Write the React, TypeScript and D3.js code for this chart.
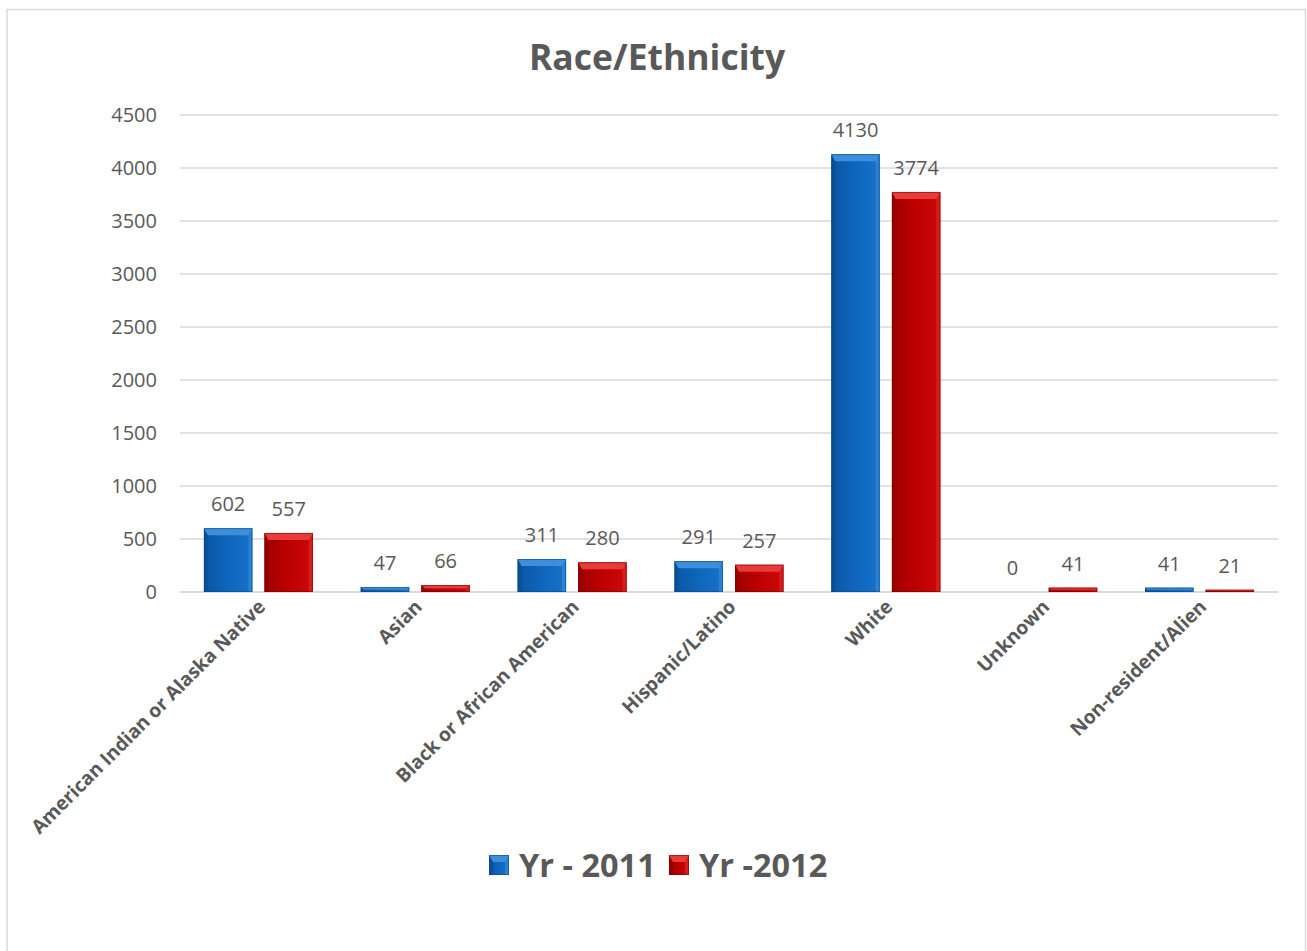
import React from "react";
import * as d3 from "d3";

const categories = [
  "American Indian or Alaska Native",
  "Asian",
  "Black or African American",
  "Hispanic/Latino",
  "White",
  "Unknown",
  "Non-resident/Alien",
];
const seriesNames = ["Yr - 2011", "Yr -2012"];
const values2011 = [602, 47, 311, 291, 4130, 0, 41];
const values2012 = [557, 66, 280, 257, 3774, 41, 21];
const yTicks = [0, 500, 1000, 1500, 2000, 2500, 3000, 3500, 4000, 4500];

const W = 1307;
const H = 951;
const FONT = "'Open Sans', Lato, sans-serif";
const TXT = "#595959";

const palettes = [
  { faceL: "#0a55a3", faceM: "#0f66bd", faceR: "#1672c8", top: "#3d8fdc", left: "#0a4f97", right: "#2c86d8", edge: "#093f78" },
  { faceL: "#9e0000", faceM: "#bd0000", faceR: "#cc0a0a", top: "#ea3b3b", left: "#960000", right: "#d92222", edge: "#6a0000" },
];

function BevelBar({ x, y, w, h, p, id }: any) {
  if (h <= 0) return null;
  const b = Math.min(7, h / 2, w / 2);
  const s = Math.min(4, h / 2, w / 2);
  const x0 = x, x1 = x + w, y0 = y, y1 = y + h;
  return (
    <g>
      <rect x={x0} y={y0} width={w} height={h} fill={`url(#face${id})`} />
      <polygon points={`${x0},${y0} ${x0 + s},${y0 + b} ${x0 + s},${y1} ${x0},${y1}`} fill={p.left} opacity={0.85} />
      <polygon points={`${x1},${y0} ${x1},${y1} ${x1 - s},${y1} ${x1 - s},${y0 + b}`} fill={p.right} opacity={0.85} />
      <polygon points={`${x0},${y0} ${x1},${y0} ${x1 - s},${y0 + b} ${x0 + s},${y0 + b}`} fill={p.top} />
      <rect x={x0 + 0.5} y={y0 + 0.5} width={w - 1} height={Math.max(0, h - 1)} fill="none" stroke={p.edge} strokeWidth={1} opacity={0.5} />
    </g>
  );
}

export default function App() {
  const left = 180, right = 1278, top = 115, bottom = 592;
  const y = d3.scaleLinear().domain([0, 4500]).range([bottom, top]);
  const x0 = d3.scaleBand<string>().domain(categories).range([left, right]).paddingInner(0.305).paddingOuter(0.1525);
  const x1 = d3.scaleBand<string>().domain(seriesNames).range([0, x0.bandwidth()]).paddingInner(0.2);
  const series = [values2011, values2012];

  return (
    <svg width={W} height={H} style={{ position: "absolute", left: 0, top: 0 }}>
      <defs>
        {palettes.map((p, i) => (
          <linearGradient key={i} id={`face${i}`} x1="0" y1="0" x2="1" y2="0">
            <stop offset="0" stopColor={p.faceL} />
            <stop offset="0.5" stopColor={p.faceM} />
            <stop offset="1" stopColor={p.faceR} />
          </linearGradient>
        ))}
      </defs>
      <rect x={0} y={0} width={W} height={H} fill="#fff" />
      <rect x={7} y={9.5} width={1298.5} height={960} fill="#fff" stroke="#d9d9d9" strokeWidth={1.5} />
      <text x={657} y={70} textAnchor="middle" fontFamily={FONT} fontWeight={700} fontSize={35.5} fill={TXT}>
        Race/Ethnicity
      </text>
      {yTicks.map((t) => (
        <g key={t}>
          <line x1={left} x2={right} y1={y(t)} y2={y(t)} stroke="#d9d9d9" strokeWidth={t === 0 ? 2 : 1.3} />
          <text x={157} y={y(t) + 7} textAnchor="end" fontFamily={FONT} fontSize={20} fill={TXT}>{t}</text>
        </g>
      ))}
      {categories.map((c, ci) => (
        <g key={c}>
          {series.map((vals, si) => {
            const bx = (x0(c) as number) + (x1(seriesNames[si]) as number);
            const bw = x1.bandwidth();
            const by = y(vals[ci]);
            return (
              <g key={si}>
                <BevelBar x={bx} y={by} w={bw} h={bottom - by} p={palettes[si]} id={si} />
                <text x={bx + bw / 2} y={by - 17} textAnchor="middle" fontFamily={FONT} fontSize={20} fill={TXT}>
                  {vals[ci]}
                </text>
              </g>
            );
          })}
          <text
            transform={`translate(${(x0(c) as number) + x0.bandwidth() / 2 + 8},${608}) rotate(-45)`}
            textAnchor="end"
            fontFamily={FONT}
            fontWeight={700}
            fontSize={19.2}
            fill={TXT}
          >
            {c}
          </text>
        </g>
      ))}
      {seriesNames.map((s, si) => {
        const lx = si === 0 ? 489 : 669;
        return (
          <g key={s}>
            <BevelBar x={lx} y={855} w={20} h={20} p={palettes[si]} id={si} />
            <text x={lx + 30} y={877} fontFamily={FONT} fontWeight={700} fontSize={32.5} fill={TXT}>{s}</text>
          </g>
        );
      })}
    </svg>
  );
}
